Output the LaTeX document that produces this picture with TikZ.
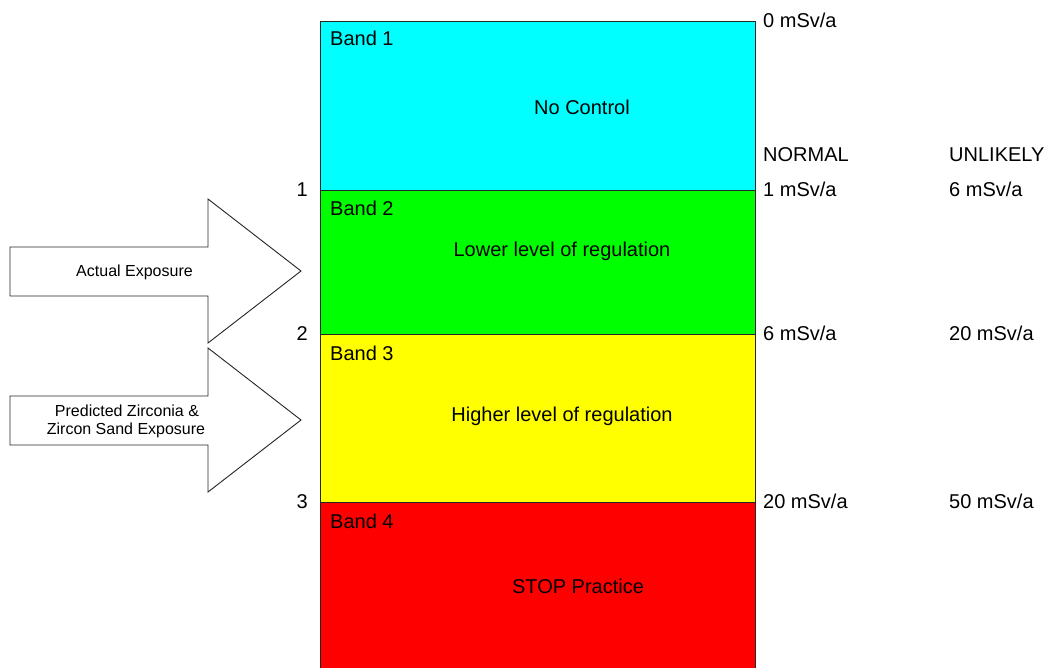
\documentclass[tikz,border=0pt]{standalone}
\usepackage{fontspec}
\setmainfont{Liberation Sans}
\definecolor{bcyan}{RGB}{0,255,255}
\definecolor{bgreen}{RGB}{0,255,0}
\definecolor{byellow}{RGB}{255,255,0}
\definecolor{bred}{RGB}{255,0,0}
\begin{document}
\begin{tikzpicture}[x=1pt,y=-1pt,
  band/.style={draw=black!85,line width=0.9pt,minimum width=435pt,inner sep=0pt,outer sep=0pt},
  big/.style={font=\fontsize{20}{24}\selectfont,inner sep=0pt},
  small/.style={font=\fontsize{16}{18}\selectfont,inner sep=0pt,align=center},
  arr/.style={draw=black!85,line width=0.9pt,fill=white,line join=miter}]
\useasboundingbox (0,0) rectangle (1052,668);
% bands
\node[band,fill=bcyan,minimum height=169pt] (b1) at (537.5,105.5) {};
\node[band,fill=bgreen,minimum height=144pt] (b2) at (537.5,262) {};
\node[band,fill=byellow,minimum height=168pt] (b3) at (537.5,418) {};
\node[band,fill=bred,minimum height=167pt] (b4) at (537.5,585.5) {};
% band labels
\node[big,anchor=base west] (l1) at (330,46) {Band 1};
\node[big,anchor=base west] (l2) at (330,216) {Band 2};
\node[big,anchor=base west] (l3) at (330,360) {Band 3};
\node[big,anchor=base west] (l4) at (330,528) {Band 4};
\node[big,anchor=base] (m1) at (582,115) {No Control};
\node[big,anchor=base] (m2) at (562,257) {Lower level of regulation};
\node[big,anchor=base] (m3) at (562,421) {Higher level of regulation};
\node[big,anchor=base] (m4) at (578,593) {STOP Practice};
% left numbers
\node[big,anchor=base east] (n1) at (308,197) {1};
\node[big,anchor=base east] (n2) at (308,341) {2};
\node[big,anchor=base east] (n3) at (308,508) {3};
% right labels
\node[big,anchor=base west] (r0) at (763,28) {0 mSv/a};
\node[big,anchor=base west] (rn) at (763,162) {NORMAL};
\node[big,anchor=base west] (r1) at (763,197) {1 mSv/a};
\node[big,anchor=base west] (r2) at (763,341) {6 mSv/a};
\node[big,anchor=base west] (r3) at (763,508) {20 mSv/a};
\node[big,anchor=base west] (un) at (949,162) {UNLIKELY};
\node[big,anchor=base west] (u1) at (949,197) {6 mSv/a};
\node[big,anchor=base west] (u2) at (949,341) {20 mSv/a};
\node[big,anchor=base west] (u3) at (949,508) {50 mSv/a};
% arrows
\draw[arr] (10,247) -- (208,247) -- (208,199) -- (301,271) -- (208,343) -- (208,296) -- (10,296) -- cycle;
\draw[arr] (10,396) -- (208,396) -- (208,348) -- (301,420) -- (208,492) -- (208,445) -- (10,445) -- cycle;
\node[small,anchor=base] (a1) at (134.5,277) {Actual Exposure};
\node[small,anchor=base] (a2) at (127,416) {Predicted Zirconia \&};
\node[small,anchor=base] (a3) at (126,434) {Zircon Sand Exposure};
\end{tikzpicture}
\end{document}
